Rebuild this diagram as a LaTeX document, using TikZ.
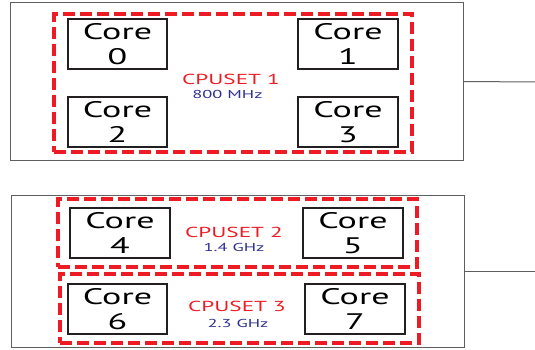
\documentclass[tikz,border=0pt]{standalone}
\usepackage{fontspec}
\setmainfont[FakeStretch=1.6]{PT Sans}
\definecolor{setred}{RGB}{237,28,36}
\definecolor{freqblue}{RGB}{46,49,146}
\definecolor{coreline}{RGB}{35,31,32}
\definecolor{boxgray}{RGB}{95,95,95}
\begin{document}
\begin{tikzpicture}[x=1pt,y=-1pt,
  board/.style={draw=boxgray,line width=1pt,rectangle,inner sep=0pt},
  cpuset/.style={draw=setred,line width=3.2pt,dash pattern=on 12pt off 5pt,rectangle,inner sep=0pt},
  core/.style={draw=coreline,line width=1.8pt,rectangle,inner sep=0pt,minimum height=50pt,
    align=center,font=\fontsize{22.5}{25}\selectfont},
  setname/.style={text=setred,font=\fontsize{14.5}{16}\selectfont,inner sep=0pt},
  freq/.style={text=freqblue,font=\fontsize{11.5}{13}\selectfont,inner sep=0pt},
  link/.style={draw=boxgray,line width=1pt}]
\useasboundingbox (0,0) rectangle (535,350);

% upper board with one cpuset of four cores
\node[board,minimum width=453pt,minimum height=157pt] (boardA) at (236.5,81.5) {};
\node[cpuset,minimum width=358pt,minimum height=138pt] (set1) at (233,83) {};
\node[core,minimum width=99pt] (c0) at (117.5,44) {Core\\0};
\node[core,minimum width=100pt] (c1) at (348,44) {Core\\1};
\node[core,minimum width=99pt] (c2) at (117.5,122) {Core\\2};
\node[core,minimum width=100pt] (c3) at (348,122) {Core\\3};
\node[setname] (n1) at (231,79) {CPUSET 1};
\node[freq] (f1) at (227.5,94) {800 MHz};
\coordinate (endA) at (535,82);
\draw[link] (boardA.east) -- (endA);

% lower board with two cpusets of two cores each
\node[board,minimum width=453pt,minimum height=152pt] (boardB) at (237.5,271) {};
\node[cpuset,minimum width=359pt,minimum height=68pt] (set2) at (237.5,233) {};
\node[cpuset,minimum width=359pt,minimum height=69pt] (set3) at (239.5,308.5) {};
\node[core,minimum width=100pt] (c4) at (120,233) {Core\\4};
\node[core,minimum width=100pt] (c5) at (353,233) {Core\\5};
\node[core,minimum width=99pt] (c6) at (117.5,309) {Core\\6};
\node[core,minimum width=100pt] (c7) at (355,309) {Core\\7};
\node[setname] (n2) at (234,232) {CPUSET 2};
\node[freq] (f2) at (234,247) {1.4 GHz};
\node[setname] (n3) at (237,306) {CPUSET 3};
\node[freq] (f3) at (238,323) {2.3 GHz};
\coordinate (endB) at (535,271);
\draw[link] (boardB.east) -- (endB);
\end{tikzpicture}
\end{document}
